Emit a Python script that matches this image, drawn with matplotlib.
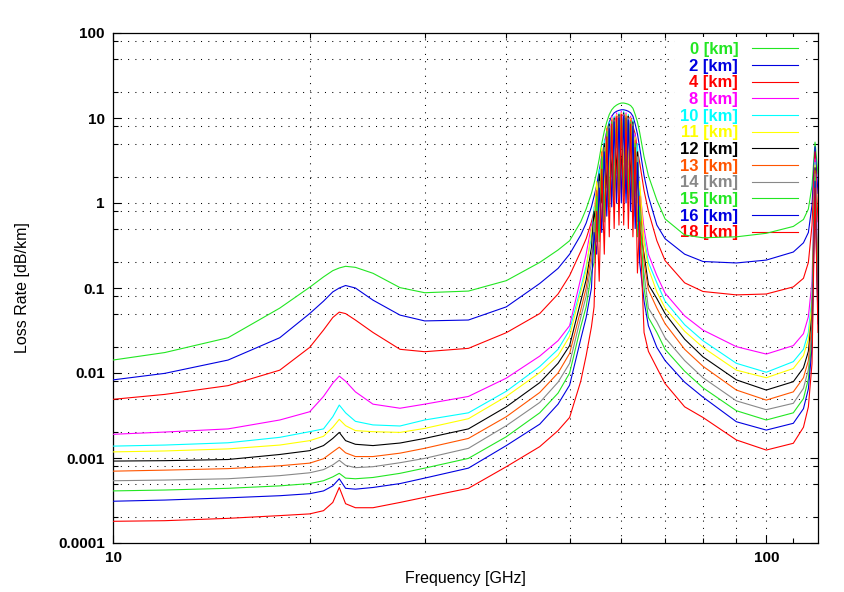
import matplotlib
matplotlib.use('Agg')
import matplotlib.pyplot as plt
from matplotlib.ticker import FixedLocator, NullFormatter, FixedFormatter

# frequency grid [GHz]
freq = [10, 12, 15, 18, 20, 21, 21.7, 22.2, 22.7, 23.5, 25, 27.5, 30, 35, 40, 45, 48, 50, 52, 53,
        54, 54.5, 55, 55.5, 56, 56.5, 57, 57.5, 58, 58.5, 59, 59.5, 60, 60.5, 61, 61.5, 62, 62.5, 63, 63.5, 64,
        65, 66, 68, 70, 75, 80, 90, 100, 110, 114, 116, 117.5, 118.75, 120]

# loss rate [dB/km] per altitude
loss_0km = [0.0142, 0.0174, 0.026, 0.058, 0.102, 0.135, 0.16, 0.172, 0.18, 0.175, 0.149, 0.101, 0.088, 0.092, 0.122, 0.2, 0.28, 0.36, 0.6, 0.85,
            1.3, 1.7, 2.3, 3.3, 5.0, 7.0, 9.0, 11.0, 12.5, 13.5, 14.2, 14.7, 15.0, 15.0, 14.8, 14.5, 14.0, 13.0, 11.0, 9.0, 6.8,
            3.5, 2.1, 1.08, 0.65, 0.42, 0.39, 0.40, 0.44, 0.53, 0.64, 0.85, 1.6, 5.2, 2.2]
loss_2km = [0.0083, 0.0099, 0.0142, 0.026, 0.05, 0.07, 0.09, 0.1, 0.107, 0.1, 0.072, 0.048, 0.041, 0.042, 0.06, 0.113, 0.17, 0.25, 0.42, 0.58,
            0.9, 1.2, 1.6, 2.4, 3.5, 5.0, 7.0, 9.0, 10.5, 11.5, 12.0, 12.3, 12.5, 12.5, 12.3, 12.0, 11.5, 10.5, 8.5, 6.5, 4.5,
            2.1, 1.2, 0.55, 0.38, 0.25, 0.205, 0.197, 0.213, 0.265, 0.34, 0.45, 0.95, 4.6, 1.3]
loss_4km = [0.0049, 0.0056, 0.0071, 0.0108, 0.02, 0.032, 0.045, 0.052, 0.05, 0.042, 0.03, 0.019, 0.0178, 0.0195, 0.0298, 0.05, 0.085, 0.14, 0.27, 0.38,
            0.6, 0.8, 1.1, 1.6, 2.3, 3.5, 5.0, 6.0, 8.5, 8.8, 10.5, 10.0, 11.0, 10.5, 10.8, 10.0, 10.0, 8.0, 6.5, 4.2, 3.0,
            1.4, 0.8, 0.36, 0.21, 0.115, 0.091, 0.083, 0.085, 0.103, 0.13, 0.2, 0.55, 4.0, 0.6]
loss_8km = [0.0019, 0.00202, 0.0022, 0.0028, 0.0035, 0.0053, 0.0076, 0.0092, 0.008, 0.006, 0.0043, 0.00385, 0.0043, 0.0053, 0.0087, 0.0158, 0.024, 0.036, 0.13, 0.25,
            0.55, 0.7, 1.6, 1.8, 4.0, 3.2, 7.5, 5.0, 10.5, 6.5, 11.5, 7.0, 12.0, 7.5, 11.5, 6.5, 10.5, 5.0, 6.5, 3.0, 1.5,
            0.5, 0.25, 0.14, 0.087, 0.047, 0.032, 0.0204, 0.0167, 0.021, 0.029, 0.046, 0.12, 3.3, 0.2]
loss_10km = [0.00138, 0.00142, 0.00151, 0.00175, 0.00204, 0.0022, 0.00306, 0.0042, 0.0034, 0.0027, 0.00245, 0.00238, 0.0028, 0.0034, 0.0061, 0.0119, 0.019, 0.032, 0.1, 0.18,
             0.4, 0.9, 0.8, 2.5, 1.5, 5.5, 3.0, 9.0, 4.0, 10.5, 4.5, 11.5, 4.5, 12.0, 4.5, 11.0, 4.0, 9.5, 3.0, 5.0, 1.0,
             0.4, 0.2, 0.115, 0.07, 0.037, 0.024, 0.013, 0.0102, 0.0136, 0.019, 0.03, 0.08, 3.0, 0.12]
loss_11km = [0.00118, 0.00121, 0.00128, 0.00142, 0.0016, 0.0018, 0.0023, 0.00285, 0.0024, 0.0021, 0.00204, 0.002, 0.00223, 0.0029, 0.0053, 0.0101, 0.016, 0.027, 0.09, 0.16,
             0.5, 0.6, 1.8, 0.9, 4.5, 1.5, 8.0, 2.2, 10.0, 2.8, 11.0, 3.0, 11.5, 3.0, 11.0, 2.8, 10.0, 2.2, 6.0, 1.0, 1.8,
             0.35, 0.17, 0.09, 0.058, 0.031, 0.02, 0.0108, 0.0088, 0.0113, 0.016, 0.025, 0.065, 2.8, 0.1]
loss_12km = [0.00092, 0.00093, 0.00096, 0.0011, 0.00122, 0.0014, 0.0017, 0.002, 0.0016, 0.00145, 0.0014, 0.0015, 0.0017, 0.0022, 0.004, 0.0077, 0.013, 0.021, 0.07, 0.125,
             0.3, 0.8, 0.5, 2.2, 1.0, 5.0, 1.5, 8.5, 2.0, 10.0, 2.2, 11.0, 2.2, 11.5, 2.2, 10.5, 1.8, 9.0, 1.2, 4.0, 0.5,
             0.25, 0.11, 0.075, 0.05, 0.025, 0.0155, 0.0083, 0.0063, 0.0079, 0.0115, 0.018, 0.05, 2.6, 0.08]
loss_13km = [0.0007, 0.00072, 0.00075, 0.00081, 0.00087, 0.00098, 0.00118, 0.00134, 0.00115, 0.00104, 0.00104, 0.00114, 0.0013, 0.0017, 0.00306, 0.0059, 0.01, 0.017, 0.055, 0.1,
             0.25, 0.3, 1.4, 0.5, 4.0, 0.8, 7.5, 1.2, 9.5, 1.5, 10.5, 1.6, 11.0, 1.6, 10.5, 1.5, 9.5, 1.2, 5.5, 0.6, 1.2,
             0.2, 0.095, 0.058, 0.038, 0.019, 0.012, 0.0063, 0.0048, 0.006, 0.0088, 0.014, 0.04, 2.4, 0.065]
loss_14km = [0.00054, 0.00055, 0.00057, 0.00062, 0.00067, 0.00073, 0.00083, 0.00094, 0.00082, 0.00077, 0.00079, 0.00088, 0.00099, 0.0013, 0.0024, 0.0045, 0.0078, 0.013, 0.045, 0.08,
             0.2, 0.6, 0.35, 1.8, 0.6, 4.5, 0.9, 8.0, 1.2, 9.5, 1.3, 10.5, 1.3, 11.0, 1.3, 10.0, 1.1, 8.5, 0.7, 3.5, 0.3,
             0.15, 0.058, 0.04, 0.026, 0.014, 0.0088, 0.0047, 0.0037, 0.0044, 0.0066, 0.011, 0.032, 2.2, 0.052]
loss_15km = [0.00041, 0.00042, 0.00044, 0.00047, 0.0005, 0.00054, 0.0006, 0.00066, 0.00058, 0.00057, 0.00059, 0.00066, 0.00076, 0.00099, 0.00178, 0.0034, 0.0058, 0.01, 0.035, 0.06,
             0.15, 0.2, 1.2, 0.35, 3.5, 0.6, 7.0, 0.9, 9.0, 1.1, 10.0, 1.2, 10.5, 1.2, 10.0, 1.1, 9.0, 0.9, 5.0, 0.4, 0.9,
             0.1, 0.045, 0.03, 0.019, 0.0105, 0.0067, 0.0036, 0.0028, 0.0034, 0.005, 0.0085, 0.025, 2.0, 0.045]
loss_16km = [0.00031, 0.00032, 0.00034, 0.00036, 0.00038, 0.00041, 0.00047, 0.00057, 0.00044, 0.00043, 0.00045, 0.0005, 0.00058, 0.00076, 0.0014, 0.0025, 0.0043, 0.0072, 0.025, 0.045,
             0.1, 0.45, 0.25, 1.5, 0.45, 4.0, 0.7, 7.5, 0.9, 9.0, 1.0, 10.0, 1.0, 10.5, 1.0, 9.5, 0.8, 8.0, 0.5, 3.0, 0.2,
             0.07, 0.036, 0.02, 0.014, 0.0078, 0.0052, 0.00267, 0.00213, 0.00256, 0.0038, 0.0065, 0.02, 1.8, 0.038]
loss_18km = [0.00018, 0.000183, 0.000195, 0.00021, 0.00022, 0.00024, 0.0003, 0.00045, 0.00029, 0.00026, 0.00026, 0.0003, 0.000345, 0.00044, 0.00079, 0.00136, 0.0021, 0.003, 0.008, 0.016,
             0.035, 0.06, 0.8, 0.12, 2.5, 0.25, 6.0, 0.4, 8.5, 0.5, 10.0, 0.55, 11.0, 0.55, 10.0, 0.5, 8.5, 0.4, 4.5, 0.15, 0.6,
             0.03, 0.018, 0.0115, 0.0075, 0.004, 0.003, 0.00163, 0.00124, 0.00149, 0.0023, 0.004, 0.013, 1.5, 0.03]

labels = ['0 [km]', '2 [km]', '4 [km]', '8 [km]', '10 [km]', '11 [km]', '12 [km]',
          '13 [km]', '14 [km]', '15 [km]', '16 [km]', '18 [km]']
series = [loss_0km, loss_2km, loss_4km, loss_8km, loss_10km, loss_11km, loss_12km,
          loss_13km, loss_14km, loss_15km, loss_16km, loss_18km]
colors = ['#22e622', '#0000e0', '#ff0000', '#ff00ff', '#00ffff', '#ffff00', '#000000',
          '#ff5500', '#888888', '#22e622', '#0000e0', '#ff0000']

y_major = [0.0001, 0.001, 0.01, 0.1, 1, 10, 100]
y_minor = [k * 10.0 ** e for e in range(-4, 2) for k in (2, 5, 8)]
x_major = [10, 100]
x_minor = [20, 30, 40, 50, 60, 70, 80, 90, 110]
x_grid = [20, 30, 40, 50, 60, 70, 80, 90, 100]

plt.rcParams['font.family'] = ['Liberation Sans', 'DejaVu Sans']

fig = plt.figure(figsize=(8.45, 5.92), dpi=100)
ax = fig.add_axes([113 / 845, 1 - 543 / 592, 705 / 845, 510 / 592])
ax.set_xscale('log')
ax.set_yscale('log')
ax.set_xlim(10, 120)
ax.set_ylim(0.0001, 100)

# dotted grid like gnuplot
for yv in y_major[1:-1] + y_minor:
    ax.axhline(yv, color='black', lw=0.75, ls=(0, (1, 6)), zorder=1)
for xv in x_grid:
    ax.axvline(xv, color='black', lw=0.75, ls=(0, (1, 6)), zorder=1)

for lab, vals, col in zip(labels, series, colors):
    ax.plot(freq, vals, color=col, lw=0.8, label=lab, zorder=3)

ax.xaxis.set_major_locator(FixedLocator(x_major))
ax.xaxis.set_major_formatter(FixedFormatter(['10', '100']))
ax.xaxis.set_minor_locator(FixedLocator(x_minor))
ax.xaxis.set_minor_formatter(NullFormatter())
ax.yaxis.set_major_locator(FixedLocator(y_major))
ax.yaxis.set_major_formatter(FixedFormatter(['0.0001', '0.001', '0.01', '0.1', '1', '10', '100']))
ax.yaxis.set_minor_locator(FixedLocator(y_minor))
ax.yaxis.set_minor_formatter(NullFormatter())
ax.tick_params(which='both', direction='in', top=True, right=True, width=0.8)
ax.tick_params(which='major', length=6, labelsize=11, pad=6)
ax.tick_params(which='minor', length=3.5)
for t in ax.get_xticklabels() + ax.get_yticklabels():
    t.set_fontweight('bold')
for s in ax.spines.values():
    s.set_linewidth(0.9)

ax.set_xlabel('Frequency [GHz]', fontsize=11.5, labelpad=4)
ax.set_ylabel('Loss Rate [dB/km]', fontsize=11.5, labelpad=20)

leg = ax.legend(loc='upper right', bbox_to_anchor=(0.979, 0.992), markerfirst=False,
                labelcolor='linecolor', prop={'weight': 'bold', 'size': 12},
                handlelength=2.75, handletextpad=0.85, labelspacing=0.1,
                borderpad=0.3, borderaxespad=0, frameon=True, fancybox=False)
leg.get_frame().set_facecolor('white')
leg.get_frame().set_edgecolor('none')
leg.get_frame().set_alpha(1)
leg.set_zorder(2)
for t in leg.get_texts():
    t.set_ha('right')

fig.savefig('out.png', dpi=100)
